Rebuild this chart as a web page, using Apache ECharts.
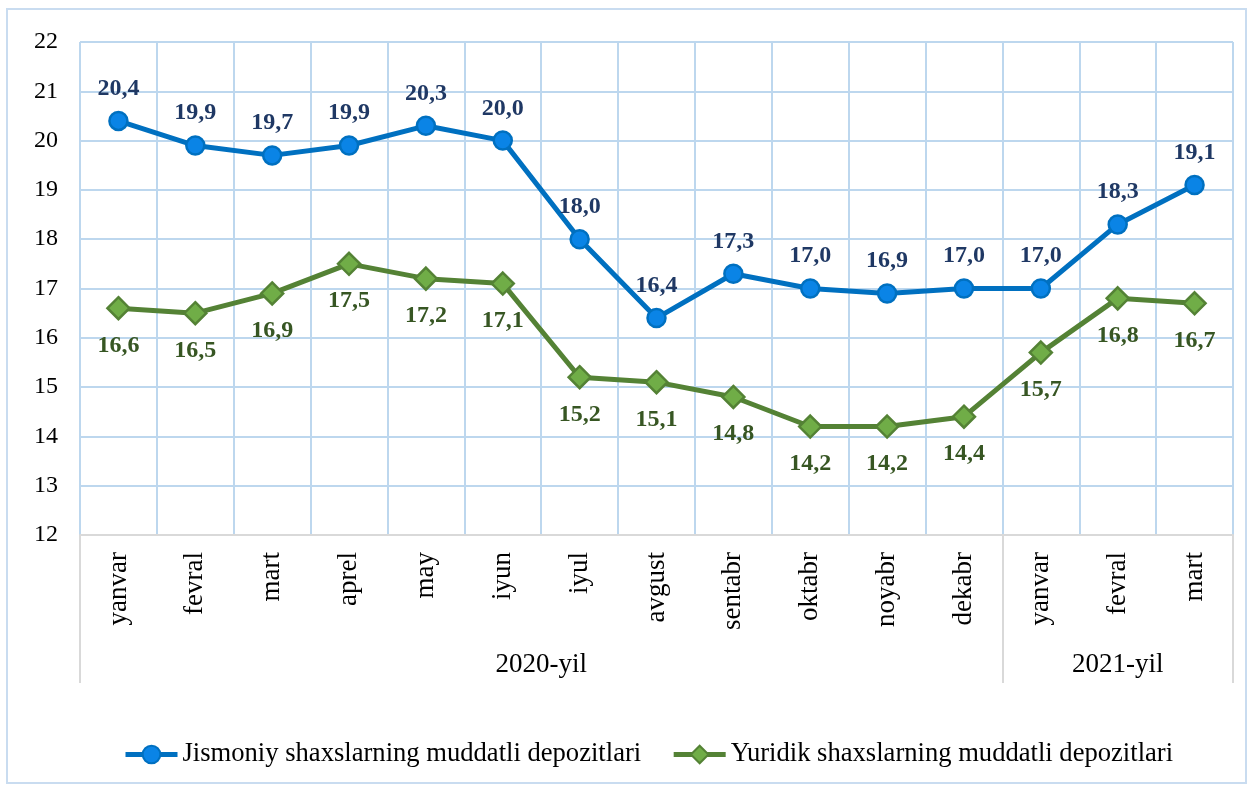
<!DOCTYPE html>
<html><head><meta charset="utf-8">
<script src="https://cdn.jsdelivr.net/npm/echarts@6/dist/echarts.min.js"></script>
<style>
html,body{margin:0;padding:0;background:#fff;}
#frame{position:absolute;left:6px;top:8px;width:1241px;height:776px;border:2px solid #c9dcf0;box-sizing:border-box;}
#c{position:absolute;left:0;top:0;width:1255px;height:787px;}
</style></head>
<body>
<div id="frame"></div>
<div id="c"></div>
<script>
const months = ['yanvar','fevral','mart','aprel','may','iyun','iyul','avgust','sentabr','oktabr','noyabr','dekabr','yanvar','fevral','mart'];
const years = ['2020-yil','2021-yil'];
const yearSpans = [12, 3];
const jismoniy = [20.4,19.9,19.7,19.9,20.3,20.0,18.0,16.4,17.3,17.0,16.9,17.0,17.0,18.3,19.1];
const yuridik = [16.6,16.5,16.9,17.5,17.2,17.1,15.2,15.1,14.8,14.2,14.2,14.4,15.7,16.8,16.7];
const seriesNames = ['Jismoniy shaxslarning muddatli depozitlari','Yuridik shaxslarning muddatli depozitlari'];

const font = 'Liberation Serif, Times New Roman, serif';
const bounds = [0]; const centers = [];
yearSpans.forEach((s,i)=>{ centers.push(bounds[i] + s/2); bounds.push(bounds[i]+s); });

const fmt = p => p.value.toFixed(1).replace('.', ',');
const chart = echarts.init(document.getElementById('c'));
chart.setOption({
  animation:false,
  grid:{left:80,right:22,top:42,bottom:252},
  xAxis:[{
    type:'category', data:months, boundaryGap:true,
    axisLine:{lineStyle:{color:'#d9d9d9',width:2}},
    axisTick:{show:false},
    axisLabel:{rotate:90,margin:17,fontFamily:font,fontSize:27,color:'#000',interval:0},
    splitLine:{show:true,interval:0,lineStyle:{color:'#bdd7ee',width:2}}
  },{
    type:'value', min:0, max:15, position:'bottom',
    axisLine:{show:false},
    splitLine:{show:false},
    axisTick:{show:true,customValues:bounds,length:148,lineStyle:{color:'#d9d9d9',width:2}},
    axisLabel:{customValues:centers,margin:116,fontFamily:font,fontSize:27,color:'#000',
      formatter:(v)=>{const i=centers.indexOf(v);return i>=0?years[i]:'';}}
  }],
  yAxis:{
    type:'value', min:12, max:22, interval:1,
    axisLine:{show:false}, axisTick:{show:false},
    axisLabel:{margin:22,fontFamily:font,fontSize:24,color:'#000'},
    splitLine:{lineStyle:{color:'#bdd7ee',width:2}}
  },
  legend:{
    bottom:14, left:118, itemGap:30, itemWidth:52, itemHeight:22,
    textStyle:{fontFamily:font,fontSize:26.6,color:'#000'},
    lineStyle:{width:5},
    data:seriesNames
  },
  series:[{
    name:seriesNames[0], type:'line', data:jismoniy,
    symbol:'circle', symbolSize:18,
    lineStyle:{color:'#0070c0',width:5},
    itemStyle:{color:'#0a84e6',borderColor:'#0070c0',borderWidth:2.5},
    label:{show:true,position:'top',distance:10,formatter:fmt,fontFamily:font,fontSize:24,fontWeight:'bold',color:'#1f3864'}
  },{
    name:seriesNames[1], type:'line', data:yuridik,
    symbol:'diamond', symbolSize:22,
    lineStyle:{color:'#548235',width:5},
    itemStyle:{color:'#70ad47',borderColor:'#548235',borderWidth:2.5},
    label:{show:true,position:'bottom',distance:13,formatter:fmt,fontFamily:font,fontSize:24,fontWeight:'bold',color:'#375623'}
  }]
});
</script>
</body></html>
